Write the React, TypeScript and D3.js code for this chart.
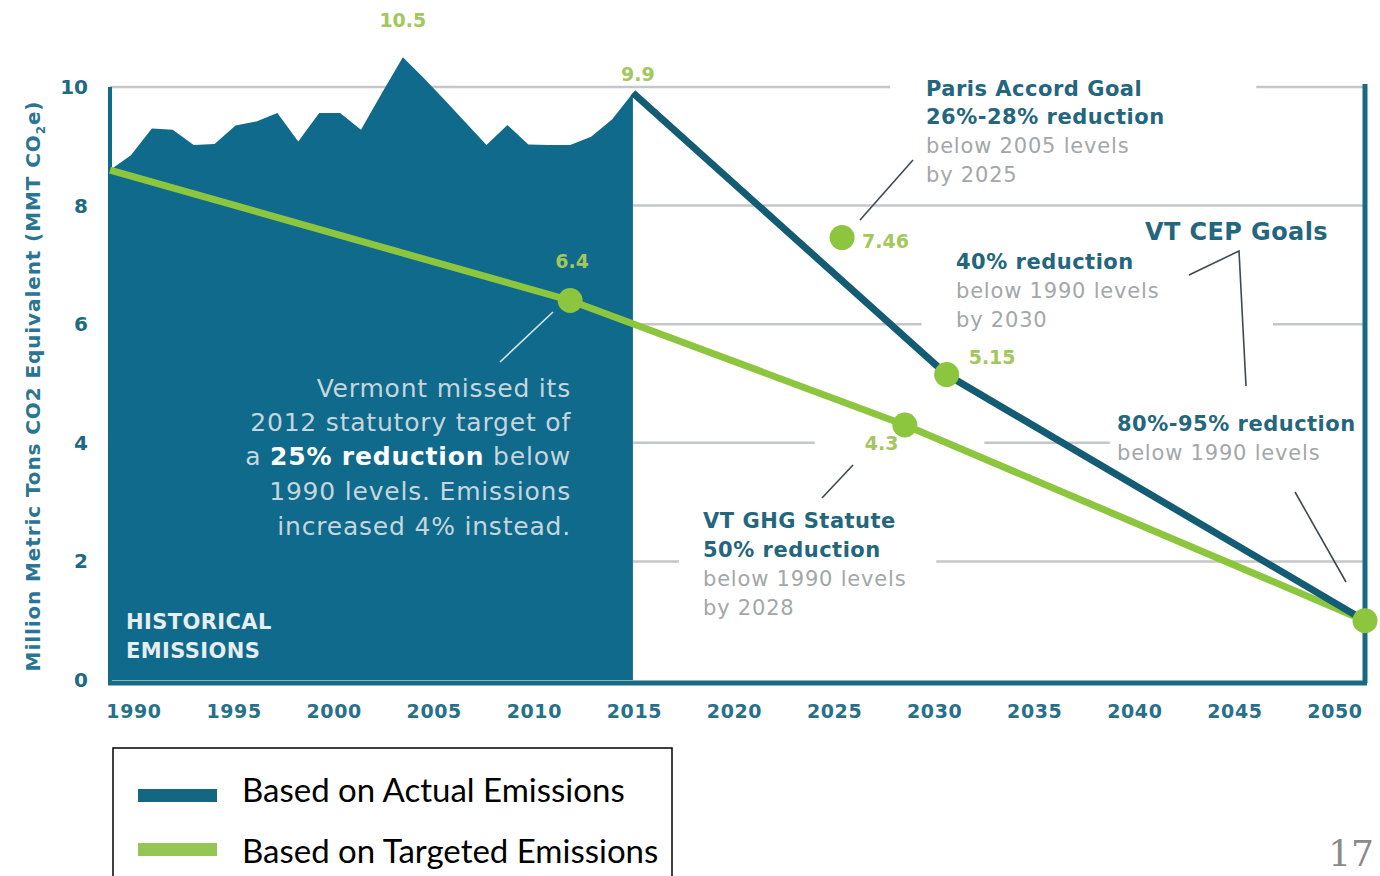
import React from "react";
import * as d3 from "d3";

// Historical Vermont GHG emissions (MMT CO2e)
const histYears = [1990, 1991, 1992, 1993, 1994, 1995, 1996, 1997, 1998, 1999, 2000, 2001, 2002, 2003, 2004, 2005, 2006, 2007, 2008, 2009, 2010, 2011, 2012, 2013, 2014, 2015];
const histValues = [8.6, 8.85, 9.3, 9.28, 9.02, 9.04, 9.35, 9.42, 9.56, 9.08, 9.56, 9.56, 9.28, 9.9, 10.5, 10.15, 9.78, 9.4, 9.02, 9.36, 9.03, 9.02, 9.02, 9.16, 9.45, 9.9];

// Path to goals starting from actual 2015 emissions
const actualYears = [2015, 2030, 2050];
const actualValues = [9.9, 5.15, 1.0];

// Path to goals following the statutory targets
const targetYears = [1990, 2012, 2028, 2050];
const targetValues = [8.6, 6.4, 4.3, 1.0];

// Goal markers
const goalYears = [2012, 2025, 2030, 2028, 2050];
const goalValues = [6.4, 7.46, 5.15, 4.3, 1.0];

const xTicks = [1990, 1995, 2000, 2005, 2010, 2015, 2020, 2025, 2030, 2035, 2040, 2045, 2050];
const yTicks = [0, 2, 4, 6, 8, 10];

const legendLabels = ["Based on Actual Emissions", "Based on Targeted Emissions"];

const TEAL = "#0f6a8b";
const DARK = "#145c74";
const GREEN = "#8cc63f";
const LABEL_GREEN = "#a3c75c";
const HEAD = "#23667d";
const GREY = "#a3a7a9";
const GRID = "#c4c6c8";
const FONT = "'DejaVu Sans', 'Open Sans', sans-serif";

export default function App() {
  const W = 1380;
  const H = 876;
  const x = d3.scaleLinear().domain([1990, 2050]).range([110, 1365]);
  const y = d3.scaleLinear().domain([0, 10]).range([680, 87]);
  const xLabel = d3.scaleLinear().domain([1990, 2050]).range([134, 1335]);

  const histData = histYears.map((yr, i) => [yr, histValues[i]] as [number, number]);
  const actualData = actualYears.map((yr, i) => [yr, actualValues[i]] as [number, number]);
  const targetData = targetYears.map((yr, i) => [yr, targetValues[i]] as [number, number]);

  const area = d3
    .area<[number, number]>()
    .x((d) => x(d[0]))
    .y0(y(0))
    .y1((d) => y(d[1]));
  const line = d3
    .line<[number, number]>()
    .x((d) => x(d[0]))
    .y((d) => y(d[1]));

  // gridline pieces (in years) leaving room for the annotations
  const gridSegs: { v: number; segs: [number, number][] }[] = [
    { v: 10, segs: [[1990, 2027.3], [2044.8, 2050]] },
    { v: 8, segs: [[2015, 2050]] },
    { v: 6, segs: [[2015, 2028.8], [2045.6, 2050]] },
    { v: 4, segs: [[2015, 2023.7], [2031.8, 2037.8]] },
    { v: 2, segs: [[2015, 2017.2], [2029.5, 2050]] },
  ];

  const leader = (x1: number, y1: number, x2: number, y2: number, color = "#3c4a52") => (
    <line x1={x1} y1={y1} x2={x2} y2={y2} stroke={color} strokeWidth={1.6} />
  );

  return (
    <svg width={W} height={H} style={{ position: "absolute", left: 0, top: 0, background: "#fff" }} fontFamily={FONT}>
      {/* gridlines */}
      {gridSegs.map((g) =>
        g.segs.map((s, i) => (
          <line key={`${g.v}-${i}`} x1={x(s[0])} x2={x(s[1])} y1={y(g.v)} y2={y(g.v)} stroke={GRID} strokeWidth={2.5} />
        ))
      )}

      {/* historical emissions area */}
      <path d={area(histData) || ""} fill={TEAL} />

      {/* plot frame */}
      <line x1={x(1990)} x2={x(1990)} y1={y(10)} y2={y(0) + 3} stroke={TEAL} strokeWidth={4} />
      <line x1={x(2050)} x2={x(2050)} y1={y(10) - 3} y2={y(0) + 3} stroke="#176a80" strokeWidth={5} />
      <line x1={x(1990) - 2} x2={x(2050) + 2} y1={y(0) + 3} y2={y(0) + 3} stroke="#176a80" strokeWidth={5} />

      {/* y ticks */}
      {yTicks.map((t) => (
        <text key={t} x={88} y={y(t)} dy="0.35em" textAnchor="end" fontWeight={700} fontSize={20} fill="#1d6a84">
          {t}
        </text>
      ))}
      {/* x ticks */}
      {xTicks.map((t) => (
        <text key={t} x={xLabel(t)} y={718} textAnchor="middle" fontWeight={700} fontSize={19} fill="#27708a" letterSpacing={0.6}>
          {t}
        </text>
      ))}

      {/* y axis title */}
      <text transform={`translate(40,386) rotate(-90)`} textAnchor="middle" fontWeight={700} fontSize={20} fill="#2a7592" letterSpacing={0.9}>
        Million Metric Tons CO2 Equivalent (MMT CO<tspan fontSize={12} dy={5}>2</tspan><tspan dy={-5}>e)</tspan>
      </text>

      {/* target and actual paths */}
      <path d={line(targetData) || ""} fill="none" stroke={GREEN} strokeWidth={7} />
      <path d={line(actualData) || ""} fill="none" stroke={DARK} strokeWidth={7} />

      {/* goal markers */}
      {goalYears.map((yr, i) => (
        <circle key={yr} cx={x(yr)} cy={y(goalValues[i])} r={12.5} fill={GREEN} />
      ))}

      {/* value labels */}
      <g fill={LABEL_GREEN} fontWeight={700} fontSize={19}>
        <text x={x(2004)} y={y(10.5) - 30} textAnchor="middle">10.5</text>
        <text x={x(2015) + 5} y={y(9.9) - 12} textAnchor="middle">9.9</text>
        <text x={x(2012) + 2} y={y(6.4) - 32} textAnchor="middle">6.4</text>
        <text x={x(2025) + 20} y={y(7.46) + 10}>7.46</text>
        <text x={x(2030) + 22} y={y(5.15) - 11}>5.15</text>
        <text x={x(2028) - 40} y={y(4.3) + 25}>4.3</text>
      </g>

      {/* historical annotation */}
      <g fill="#c5d6de" fontSize={25} fontWeight={400} textAnchor="end" letterSpacing={0.8}>
        <text x={571} y={397}>Vermont missed its</text>
        <text x={571} y={431}>2012 statutory target of</text>
        <text x={571} y={465}>
          a <tspan fontWeight={700} fill="#ffffff">25% reduction</tspan> below
        </text>
        <text x={571} y={500}>1990 levels. Emissions</text>
        <text x={571} y={535}>increased 4% instead.</text>
      </g>
      {leader(500, 362, 553, 312, "#d9e4e9")}
      <g fill="#e6eef2" fontSize={21} fontWeight={700} letterSpacing={0.4}>
        <text x={126} y={629}>HISTORICAL</text>
        <text x={126} y={658}>EMISSIONS</text>
      </g>

      {/* Paris Accord */}
      <g fontSize={21} letterSpacing={0.5}>
        <text x={926} y={96} fontWeight={700} fill={HEAD}>Paris Accord Goal</text>
        <text x={926} y={124} fontWeight={700} fill={HEAD}>26%-28% reduction</text>
        <text x={926} y={153} fill={GREY} letterSpacing={0.8}>below 2005 levels</text>
        <text x={926} y={182} fill={GREY} letterSpacing={0.8}>by 2025</text>
      </g>
      {leader(860, 220, 913, 160)}

      {/* VT CEP goals */}
      <text x={1145} y={240} fontSize={24} fontWeight={700} fill={HEAD} letterSpacing={0.4}>VT CEP Goals</text>
      <polyline points="1189,275 1239,251 1246,386" fill="none" stroke="#3c4a52" strokeWidth={1.6} />
      <g fontSize={21} letterSpacing={0.5}>
        <text x={956} y={269} fontWeight={700} fill={HEAD}>40% reduction</text>
        <text x={956} y={298} fill={GREY} letterSpacing={0.8}>below 1990 levels</text>
        <text x={956} y={327} fill={GREY} letterSpacing={0.8}>by 2030</text>
        <text x={1117} y={431} fontWeight={700} fill={HEAD}>80%-95% reduction</text>
        <text x={1117} y={460} fill={GREY} letterSpacing={0.8}>below 1990 levels</text>
      </g>
      {leader(1295, 492, 1346, 582)}

      {/* VT GHG statute */}
      <g fontSize={21} letterSpacing={0.5}>
        <text x={703} y={528} fontWeight={700} fill={HEAD}>VT GHG Statute</text>
        <text x={703} y={557} fontWeight={700} fill={HEAD}>50% reduction</text>
        <text x={703} y={586} fill={GREY} letterSpacing={0.8}>below 1990 levels</text>
        <text x={703} y={615} fill={GREY} letterSpacing={0.8}>by 2028</text>
      </g>
      {leader(822, 498, 853, 465)}

      {/* legend */}
      <polyline points="113,876 113,748 672,748 672,876" fill="none" stroke="#000" strokeWidth={1.5} />
      <rect x={138} y={789} width={79} height={13} fill="#136780" />
      <rect x={138} y={843} width={79} height={13} fill="#93c653" />
      <g fontFamily="Lato, 'Liberation Sans', sans-serif" fontSize={33} fill="#000">
        <text x={242} y={802}>{legendLabels[0]}</text>
        <text x={242} y={863}>{legendLabels[1]}</text>
      </g>

      {/* slide number */}
      <text x={1374} y={866} textAnchor="end" fontFamily="'DejaVu Serif', 'Liberation Serif', serif" fontSize={36} fill="#8a8a8a">17</text>
    </svg>
  );
}
